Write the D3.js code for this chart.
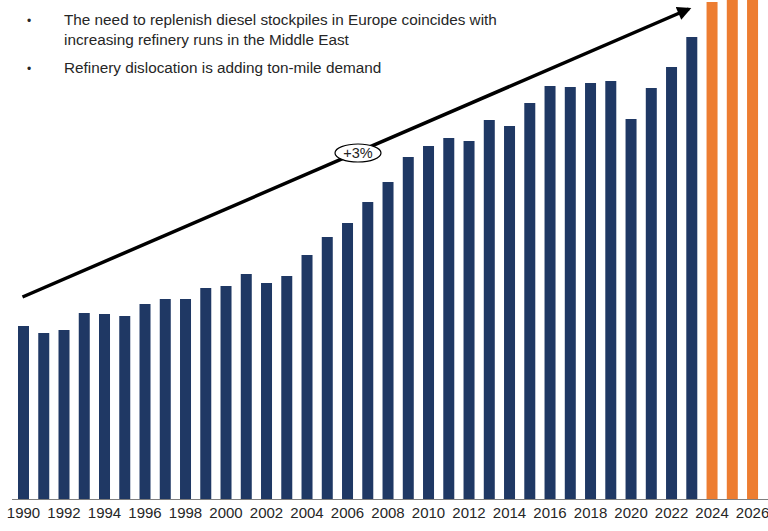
<!DOCTYPE html>
<html>
<head>
<meta charset="utf-8">
<script src="https://cdn.jsdelivr.net/npm/d3@7"></script>
<style>
  html, body { margin: 0; padding: 0; background: #ffffff; }
  svg { display: block; font-family: "Liberation Sans", Arial, sans-serif; }
</style>
</head>
<body>
<svg id="chart" width="768" height="531"></svg>
<script>
// Yearly volumes (index units); 2024-2026 are forecasts
const years = d3.range(1990, 2027);
const volumes = [
  1.73, 1.66, 1.69, 1.86, 1.85, 1.83, 1.95, 2.00, 2.00, 2.11,
  2.13, 2.25, 2.16, 2.23, 2.44, 2.62, 2.76, 2.97, 3.17, 3.42,
  3.53, 3.61, 3.58, 3.79, 3.73, 3.96, 4.13, 4.12, 4.16, 4.18,
  3.80, 4.11, 4.32, 4.62, 4.97, 5.15, 5.30
];
const forecastFrom = 2024;
const tickYears = years.filter(y => y % 2 === 0);
const bullets = [
  { lines: ["The need to replenish diesel stockpiles in Europe coincides with",
            "increasing refinery runs in the Middle East"] },
  { lines: ["Refinery dislocation is adding ton-mile demand"] }
];
const trendLabel = "+3%";
// Trend arrow endpoints, in data terms (year, volume)
const trendStart = { year: 1990, value: 2.02 };
const trendEnd = { year: 2022.85, value: 4.90 };

const W = 768, H = 531;
const svg = d3.select("#chart");

const x = d3.scaleBand()
  .domain(years)
  .range([8.75, 767.3])
  .paddingInner(0.457)
  .paddingOuter(0.457);

const y = d3.scaleLinear().domain([0, 4.99]).range([499, 0]);

const navy = "#1f3864", orange = "#ed7d31";

// Bars
svg.append("g")
  .selectAll("rect")
  .data(years.map((yr, i) => ({ yr, v: volumes[i] })))
  .join("rect")
  .attr("x", d => x(d.yr))
  .attr("width", x.bandwidth())
  .attr("y", d => y(d.v))
  .attr("height", d => y(0) - y(d.v))
  .attr("fill", d => d.yr >= forecastFrom ? orange : navy);

// Baseline axis with even-year labels
const axis = d3.axisBottom(x).tickValues(tickYears).tickSize(0).tickPadding(8);
const gx = svg.append("g").attr("transform", `translate(0,${y(0)})`).call(axis);
gx.select(".domain").attr("stroke", "#7f7f7f").attr("stroke-width", 1)
  .attr("d", `M12,0.5H${W}`);
gx.selectAll("text")
  .attr("font-size", 15)
  .attr("font-family", "Liberation Sans, Arial, sans-serif")
  .attr("fill", "#262626");

// Trend arrow
const xc = yr => {
  const i = Math.floor(yr - 1990);
  return x(1990 + i) + x.step() * (yr - 1990 - i) + x.bandwidth() / 2;
};
const x1 = xc(trendStart.year) - 1, y1 = y(trendStart.value);
const x2 = xc(trendEnd.year), y2 = y(trendEnd.value);
const defs = svg.append("defs");
defs.append("marker")
  .attr("id", "head")
  .attr("viewBox", "0 0 10 10")
  .attr("refX", 8).attr("refY", 5)
  .attr("markerWidth", 4.2).attr("markerHeight", 4)
  .attr("markerUnits", "strokeWidth")
  .attr("orient", "auto")
  .append("path").attr("d", "M0,0L10,5L0,10z").attr("fill", "#000");

svg.append("line")
  .attr("x1", x1).attr("y1", y1)
  .attr("x2", x2).attr("y2", y2)
  .attr("stroke", "#000")
  .attr("stroke-width", 3.5)
  .attr("marker-end", "url(#head)");

// Growth label in an ellipse on the arrow
const lx = 358, ly = y1 + (y2 - y1) * (lx - x1) / (x2 - x1) + 1;
svg.append("ellipse")
  .attr("cx", lx).attr("cy", ly)
  .attr("rx", 23).attr("ry", 9)
  .attr("fill", "#fff").attr("stroke", "#000").attr("stroke-width", 1.2);
svg.append("text")
  .attr("x", lx).attr("y", ly + 5)
  .attr("text-anchor", "middle")
  .attr("font-size", 14.5)
  .attr("fill", "#222")
  .text(trendLabel);

// Bullet notes
const notes = svg.append("g").attr("fill", "#262626").attr("font-size", 15.3);
let baseY = 25;
bullets.forEach((b, bi) => {
  notes.append("text").attr("x", 27).attr("y", baseY).attr("font-size", 12).text("•");
  b.lines.forEach((ln, li) => {
    notes.append("text").attr("x", 64).attr("y", baseY + li * 20).text(ln);
  });
  baseY += b.lines.length * 20 + 8;
});
</script>
</body>
</html>
